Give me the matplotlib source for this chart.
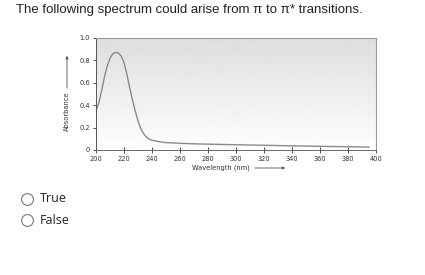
import matplotlib.pyplot as plt
import numpy as np

# spectrum
wavelength = [200, 202, 204, 206, 208, 210, 212, 214, 215, 216, 218, 220, 222,
              224, 226, 228, 230, 232, 234, 236, 238, 240, 245, 250, 260, 270,
              280, 300, 320, 340, 360, 380, 395]
absorbance = [0.35, 0.42, 0.53, 0.65, 0.75, 0.82, 0.86, 0.87, 0.87, 0.865, 0.84,
              0.78, 0.68, 0.56, 0.45, 0.35, 0.26, 0.19, 0.145, 0.115, 0.097,
              0.087, 0.074, 0.066, 0.06, 0.055, 0.052, 0.047, 0.042, 0.037,
              0.033, 0.029, 0.026]
xticks = [200, 220, 240, 260, 280, 300, 320, 340, 360, 380, 400]
yticks = [0, 0.2, 0.4, 0.6, 0.8, 1.0]
ytick_labels = ['0', '0.2', '0.4', '0.6', '0.8', '1.0']
question = 'The following spectrum could arise from π to π* transitions.'
choices = ['True', 'False']

W, H = 425, 275
fig = plt.figure(figsize=(W / 100, H / 100), dpi=100)
fig.patch.set_facecolor('white')


def px(x, y):
    # figure pixel -> figure fraction
    return x / W, 1 - y / H


# question text
fig.text(*px(16, 10), question, fontsize=9.5, family='Liberation Sans',
         color='#222222', va='center', ha='left')

# plot area
ax = fig.add_axes([96 / W, (H - 150) / H, 280 / W, 112 / H])
grad = np.linspace(0.995, 0.87, 256).reshape(-1, 1)
ax.imshow(grad, cmap='gray', vmin=0, vmax=1, aspect='auto',
          extent=[200, 400, 0.0, 1.0], origin='lower', zorder=0)
ax.plot(wavelength, absorbance, color='#8a8a8a', lw=1.0, zorder=2)
ax.set_xlim(200, 400)
ax.set_ylim(0, 1.0)
ax.set_xticks(xticks)
ax.set_yticks(yticks)
ax.set_yticklabels(ytick_labels)
ax.tick_params(axis='both', labelsize=4.8, colors='#333333', length=2.5,
               width=0.6, pad=2)
ax.tick_params(axis='x', direction='inout', length=4)
for side in ['top', 'right']:
    ax.spines[side].set_color('#9a9a9a')
    ax.spines[side].set_linewidth(0.8)
ax.spines['left'].set_color('#555555')
ax.spines['left'].set_linewidth(0.7)
ax.spines['bottom'].set_color('#666666')
ax.spines['bottom'].set_linewidth(0.7)

# axis labels with arrows
fig.text(*px(67, 111), 'Absorbance', fontsize=4.8, rotation=90,
         ha='center', va='center', color='#333333')
fig.add_artist(plt.Annotation('', xy=px(67, 53), xytext=px(67, 91),
                              xycoords='figure fraction',
                              arrowprops=dict(arrowstyle='-|>', lw=0.6,
                                              color='#555555',
                                              mutation_scale=4)))
fig.text(*px(221, 168), 'Wavelength (nm)', fontsize=4.8, ha='center',
         va='center', color='#333333')
fig.add_artist(plt.Annotation('', xy=px(288, 168), xytext=px(252, 168),
                              xycoords='figure fraction',
                              arrowprops=dict(arrowstyle='-|>', lw=0.6,
                                              color='#555555',
                                              mutation_scale=4)))

# radio choices
for i, label in enumerate(choices):
    y = 199 + i * 21
    fig.add_artist(plt.Line2D([27 / W], [1 - y / H], marker='o',
                              markersize=8.5, mfc='white', mec='#777777',
                              mew=0.8, ls='none'))
    fig.text(*px(40, y), label, fontsize=9, family='Open Sans',
             color='#222222', va='center', ha='left')

fig.savefig('out.png', dpi=100)
